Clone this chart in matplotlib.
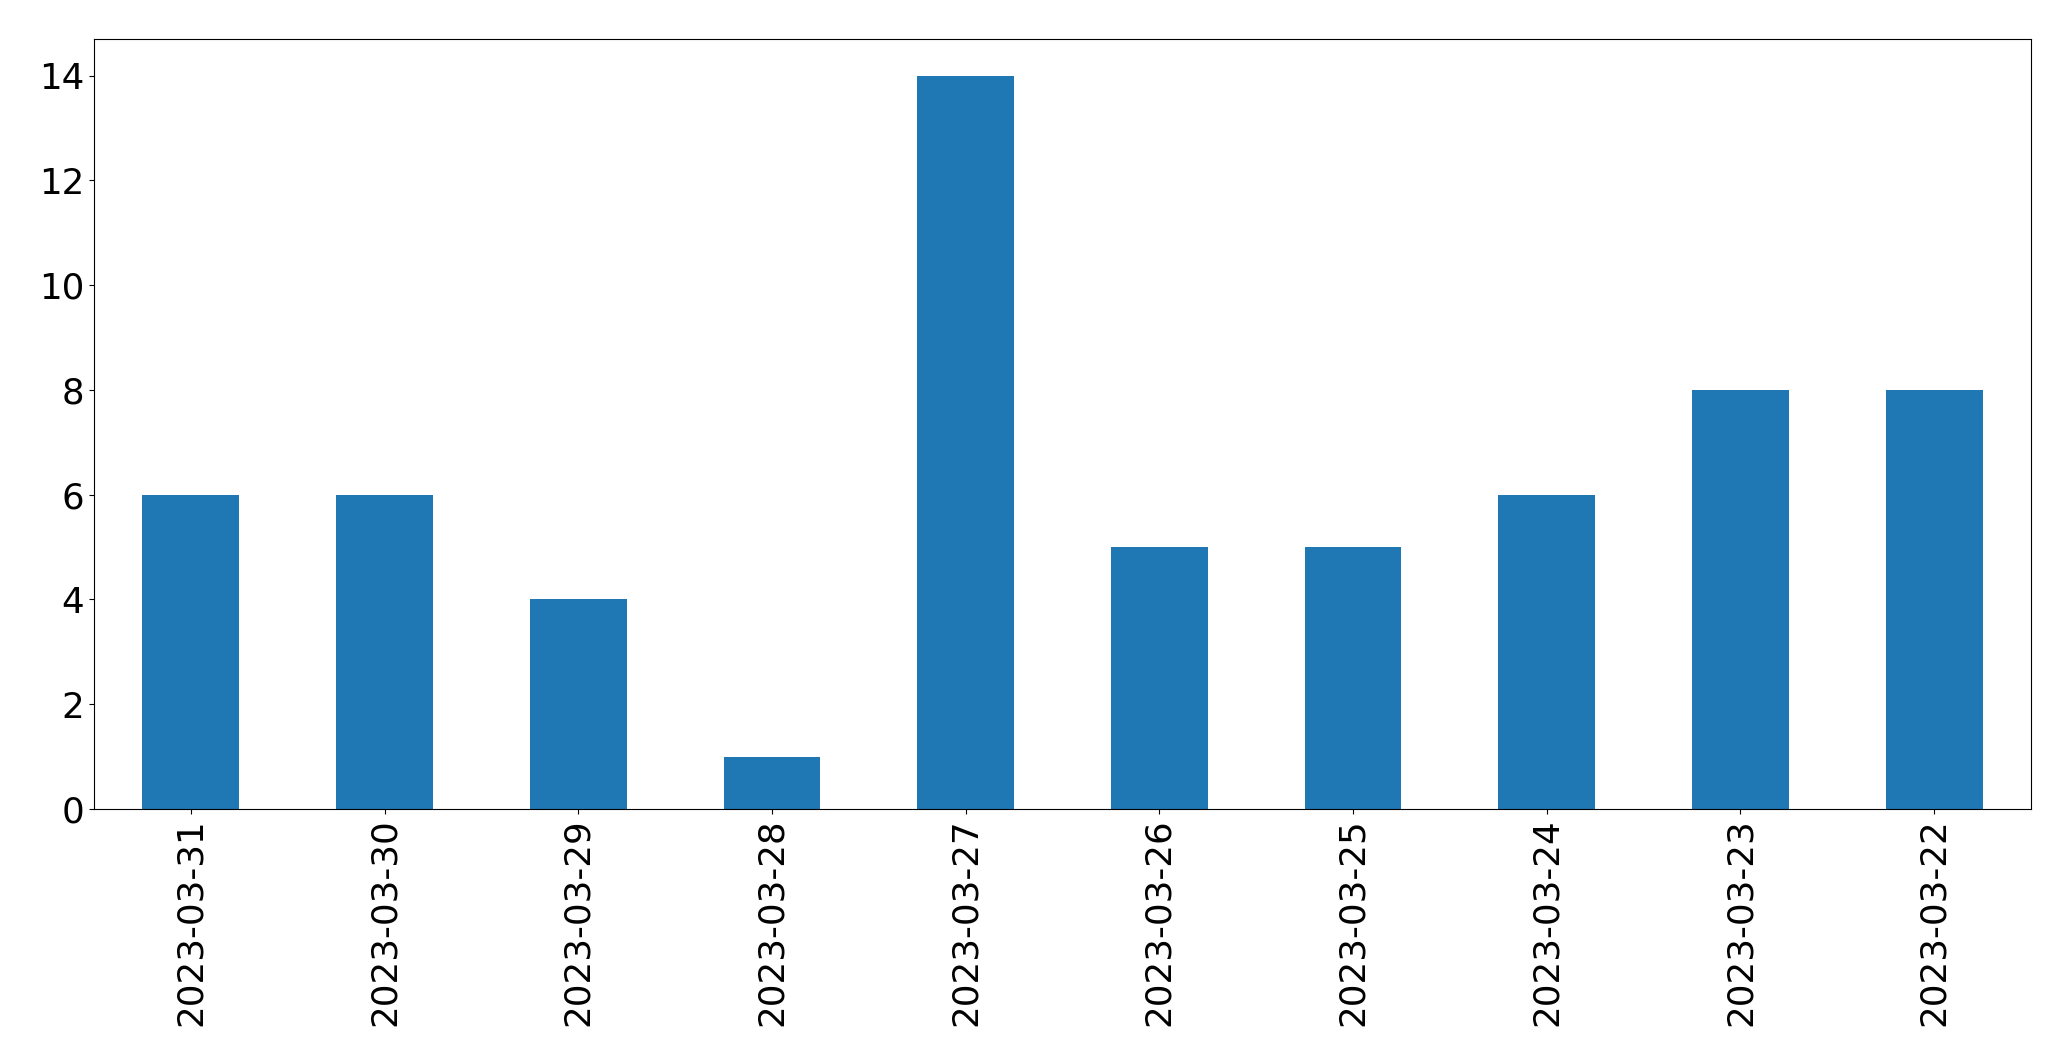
import pandas as pd
import matplotlib
matplotlib.use("Agg")
import matplotlib.pyplot as plt

dates = ["2023-03-31", "2023-03-30", "2023-03-29", "2023-03-28", "2023-03-27",
         "2023-03-26", "2023-03-25", "2023-03-24", "2023-03-23", "2023-03-22"]
counts = [6, 6, 4, 1, 14, 5, 5, 6, 8, 8]

s = pd.Series(counts, index=dates)

fig, ax = plt.subplots(figsize=(20.71, 10.61), dpi=100)
fig.subplots_adjust(left=94/2071, right=2031/2071, top=1-39/1061, bottom=1-809/1061)
s.plot(kind="bar", ax=ax, color="#1f77b4", fontsize=25.7)
ax.tick_params(axis="both", labelsize=25.7)

fig.savefig("out.png", dpi=100)
